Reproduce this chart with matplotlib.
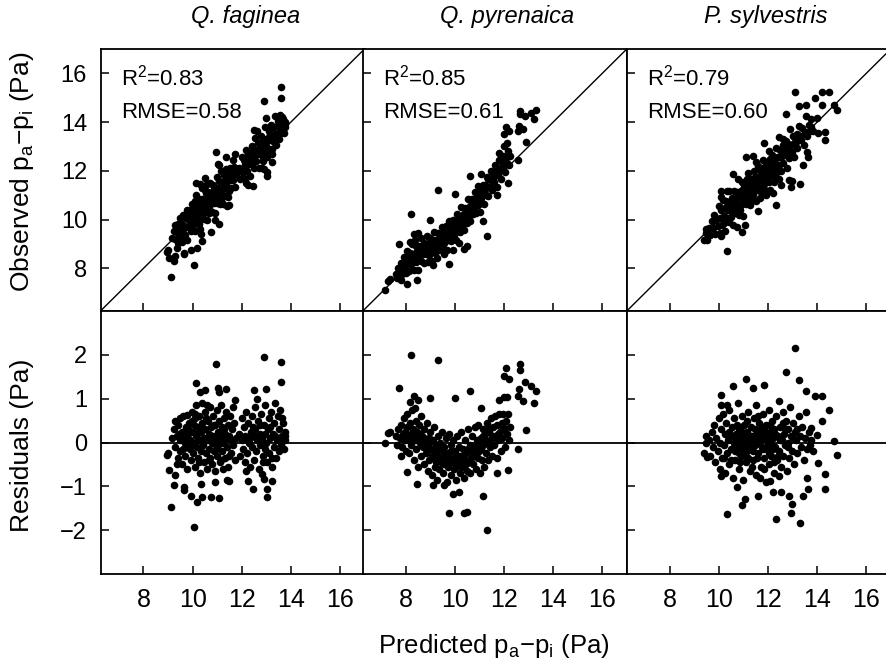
import matplotlib
matplotlib.use('Agg')
import matplotlib.pyplot as plt
import numpy as np

plt.rcParams['font.family'] = ['Liberation Sans', 'DejaVu Sans']
plt.rcParams['mathtext.fontset'] = 'custom'
plt.rcParams['mathtext.rm'] = 'Liberation Sans'
plt.rcParams['mathtext.it'] = 'Liberation Sans:italic'

species = ['Q. faginea', 'Q. pyrenaica', 'P. sylvestris']
r2_text = ['0.83', '0.85', '0.79']
rmse_text = ['0.58', '0.61', '0.60']

# (predicted, residual); observed = predicted + residual
faginea = [
    (10.97, 1.80), (12.90, 1.95), (13.62, 1.83), (13.61, 1.38), (10.14, 1.36), (9.13, -1.47),
    (10.04, -1.92), (10.18, -1.35), (9.95, -1.21), (10.38, -1.24), (10.76, -1.25), (11.07, -1.26),
    (9.66, -1.02), (9.66, -1.09), (9.25, -0.96), (9.05, -0.63), (9.27, -0.75), (13.03, -1.24),
    (13.03, -1.07), (13.24, -0.88), (12.44, -1.06), (12.27, -0.87), (12.18, -0.66), (12.83, -0.71),
    (12.90, -0.83), (10.35, -0.94), (10.90, -0.91), (11.47, -0.88), (11.40, -0.85), (9.16, 0.10),
    (8.95, -0.28), (9.00, -0.23), (11.03, 1.25), (11.37, 1.21), (11.08, 1.15), (12.50, 1.19),
    (12.97, 1.21), (12.63, 0.99), (11.73, 0.97), (13.78, 0.14), (13.75, 0.06), (10.31, 1.15),
    (10.52, 1.19), (9.29, 0.48), (9.50, 0.55), (9.77, 0.63), (9.97, 0.48),
    (9.25, 0.30), (9.30, -0.10), (9.35, 0.15), (9.40, -0.35), (9.42, 0.40), (9.48, 0.05),
    (9.50, -0.20), (9.55, 0.25), (9.58, -0.50), (9.60, 0.60), (9.65, 0.10), (9.68, -0.30),
    (9.72, 0.35), (9.75, -0.05), (9.78, -0.60), (9.82, 0.20), (9.85, 0.45), (9.88, -0.15),
    (9.90, 0.05), (9.93, -0.40), (9.96, 0.70), (10.00, 0.25), (10.02, -0.25), (10.05, 0.00),
    (10.08, 0.55), (10.10, -0.55), (10.12, 0.15), (10.15, 0.85), (10.18, -0.10), (10.20, 0.35),
    (10.22, -0.35), (10.25, 0.60), (10.28, 0.05), (10.30, -0.70), (10.33, 0.25), (10.35, -0.20),
    (10.38, 0.90), (10.40, 0.45), (10.42, -0.05), (10.45, 0.10), (10.48, -0.45), (10.50, 0.70),
    (10.52, 0.30), (10.55, -0.25), (10.58, 0.05), (10.60, -0.60), (10.62, 0.50), (10.65, 0.20),
    (10.68, -0.15), (10.70, 0.80), (10.72, -0.35), (10.75, 0.35), (10.78, 0.00), (10.80, -0.50),
    (10.83, 0.60), (10.85, 0.15), (10.88, -0.20), (10.90, 0.40), (10.93, -0.65), (10.95, 0.05),
    (10.98, 0.75), (11.00, -0.30), (11.03, 0.25), (11.05, -0.05), (11.08, 0.50), (11.10, -0.45),
    (11.13, 0.10), (11.15, 0.85), (11.18, -0.20), (11.20, 0.35), (11.23, -0.60), (11.25, 0.00),
    (11.28, 0.55), (11.30, -0.35), (11.33, 0.20), (11.36, 0.70), (11.40, -0.10), (11.43, 0.40),
    (11.46, -0.55), (11.50, 0.15), (11.53, 0.60), (11.56, -0.25), (11.60, 0.30), (11.63, 0.80),
    (11.66, -0.05), (11.70, 0.45), (11.74, -0.40), (11.78, 0.10),
    (11.90, 0.20), (11.95, -0.30), (12.00, 0.55), (12.03, 0.05), (12.07, -0.15), (12.10, 0.35),
    (12.13, -0.45), (12.16, 0.70), (12.20, 0.10), (12.23, -0.25), (12.26, 0.45), (12.30, 0.00),
    (12.33, -0.55), (12.36, 0.25), (12.40, 0.60), (12.43, -0.10), (12.46, 0.15), (12.50, -0.40),
    (12.53, 0.80), (12.56, 0.30), (12.60, -0.20), (12.63, 0.05), (12.66, 0.50), (12.70, -0.60),
    (12.73, 0.20), (12.76, -0.05), (12.80, 0.65), (12.83, 0.10), (12.86, -0.30), (12.90, 0.40),
    (12.93, -0.15), (12.96, 0.85), (13.00, 0.00), (13.03, -0.45), (13.06, 0.30), (13.10, 0.55),
    (13.13, -0.25), (13.16, 0.10), (13.20, 0.70), (13.23, -0.55), (13.26, 0.20), (13.30, -0.10),
    (13.33, 0.45), (13.36, 0.90), (13.40, -0.35), (13.43, 0.05), (13.46, 0.60), (13.50, -0.20),
    (13.53, 0.30), (13.56, 0.75), (13.60, -0.05), (13.64, 0.15), (13.68, 0.45), (13.72, -0.15),
    (13.76, 0.25),
    (9.45, 0.20), (9.62, -0.15), (9.80, 0.30), (9.98, -0.05), (10.06, 0.40), (10.16, 0.20),
    (10.26, -0.45), (10.36, 0.05), (10.46, 0.30), (10.56, 0.55), (10.66, -0.40), (10.76, 0.15),
    (10.86, 0.40), (10.96, -0.15), (11.06, 0.20), (11.16, -0.40), (11.26, 0.30), (11.38, 0.10),
    (11.48, -0.30), (11.58, 0.05), (12.15, 0.15), (12.35, 0.10), (12.55, 0.15), (12.75, 0.40),
    (12.95, 0.20), (13.15, 0.35), (13.35, 0.15), (13.55, 0.10), (12.45, 0.35), (12.85, -0.45),
    (13.25, -0.35), (13.65, 0.55), (10.10, 0.65), (10.60, 0.85), (9.70, 0.00), (9.35, -0.50),
]

pyrenaica = [
    (8.23, 2.00), (9.32, 1.89), (7.73, 1.25), (8.33, 1.06), (8.98, 1.02), (10.02, 1.02),
    (10.62, 1.17), (7.14, -0.02), (7.28, 0.21), (7.35, 0.23), (7.82, -0.30), (8.03, -0.68),
    (8.46, -0.94), (9.12, -0.98), (9.56, -0.98), (9.94, -1.17), (10.16, -1.13), (9.77, -1.60),
    (10.39, -1.60), (10.48, -1.58), (11.14, -1.21), (11.30, -1.99), (11.71, -0.69), (12.15, -0.63),
    (12.57, -0.14), (12.90, 0.29), (13.21, 0.91), (13.31, 1.18), (13.10, 1.28), (12.87, 1.37),
    (12.67, 1.80), (12.67, 1.66), (12.09, 1.70), (11.98, 1.52), (12.19, 1.44), (12.62, 1.22),
    (12.57, 1.06), (12.78, 0.94), (11.78, 0.97), (11.98, 1.04), (12.12, 1.04), (11.07, 0.79),
    (8.48, 0.97), (8.16, 0.93), (8.37, 0.79),
    (7.60, 0.15), (7.65, -0.05), (7.70, 0.30), (7.75, 0.10), (7.80, 0.40), (7.85, -0.10),
    (7.88, 0.20), (7.92, 0.55), (7.95, 0.05), (8.00, -0.20), (8.03, 0.35), (8.06, 0.65),
    (8.10, 0.10), (8.13, -0.25), (8.16, 0.45), (8.20, 0.20), (8.23, -0.05), (8.26, 0.75),
    (8.30, 0.30), (8.33, -0.40), (8.36, 0.05), (8.40, 0.50), (8.43, -0.15), (8.46, 0.25),
    (8.50, -0.55), (8.53, 0.40), (8.56, 0.00), (8.60, -0.30), (8.63, 0.60), (8.66, 0.15),
    (8.70, -0.10), (8.73, -0.50), (8.76, 0.30), (8.80, 0.05), (8.83, -0.25), (8.86, 0.45),
    (8.90, -0.65), (8.93, 0.10), (8.96, -0.40), (9.00, 0.25), (9.03, -0.15), (9.06, -0.75),
    (9.10, 0.05), (9.13, -0.35), (9.16, 0.35), (9.20, -0.55), (9.23, -0.05), (9.26, -0.85),
    (9.30, 0.15), (9.33, -0.30), (9.36, -0.60), (9.40, 0.00), (9.43, -0.45), (9.46, 0.25),
    (9.50, -0.20), (9.53, -0.70), (9.56, -0.10), (9.60, -0.40), (9.63, 0.10), (9.66, -0.90),
    (9.70, -0.25), (9.73, -0.55), (9.76, 0.20), (9.80, -0.35), (9.83, -0.05), (9.86, -0.75),
    (9.90, -0.45), (9.93, 0.05), (9.96, -0.60), (10.00, -0.20), (10.03, -0.85), (10.06, -0.35),
    (10.10, 0.15), (10.13, -0.50), (10.16, -0.10), (10.20, -0.70), (10.23, -0.30), (10.26, 0.25),
    (10.30, -0.55), (10.33, -0.15), (10.36, -0.80), (10.40, -0.40), (10.43, 0.05), (10.46, -0.25),
    (10.50, -0.65), (10.53, 0.30), (10.56, -0.45), (10.60, -0.05), (10.63, -0.70), (10.66, -0.20),
    (10.70, 0.15), (10.73, -0.50), (10.76, -0.30), (10.80, 0.35), (10.83, -0.10), (10.86, -0.60),
    (10.90, 0.05), (10.93, -0.35), (10.96, 0.40), (11.00, -0.20), (11.03, -0.70), (11.06, 0.10),
    (11.10, -0.40), (11.13, 0.30), (11.16, -0.05), (11.20, -0.55), (11.23, 0.20), (11.26, -0.25),
    (11.30, 0.45), (11.33, 0.00), (11.36, -0.40), (11.40, 0.25), (11.43, -0.10), (11.46, 0.55),
    (11.50, 0.10), (11.53, -0.30), (11.56, 0.35), (11.60, -0.05), (11.63, 0.60), (11.66, 0.15),
    (11.70, -0.35), (11.73, 0.40), (11.76, 0.05), (11.80, 0.65), (11.83, 0.25), (11.86, -0.20),
    (11.90, 0.45), (11.93, 0.10), (11.96, 0.65), (12.00, 0.30), (12.04, -0.10), (12.08, 0.50),
    (12.12, 0.20), (12.16, 0.65), (12.20, 0.05), (12.25, 0.35),
    (8.45, 0.10), (8.55, 0.20), (8.65, -0.05), (8.75, 0.10), (8.85, -0.10), (8.95, 0.00),
    (9.05, -0.30), (9.15, -0.20), (9.25, -0.45), (9.35, -0.15), (9.45, -0.35), (9.55, -0.50),
    (9.65, -0.30), (9.75, -0.45), (9.85, -0.20), (9.95, -0.35), (10.05, -0.55), (10.15, -0.30),
    (10.25, -0.40), (10.35, -0.30), (10.45, -0.50), (10.55, -0.15), (10.65, -0.35), (10.75, -0.10),
    (10.85, -0.25), (10.95, -0.05), (11.05, -0.15), (11.15, 0.15), (11.25, 0.05), (11.35, 0.30),
    (11.55, 0.15), (11.75, 0.20), (11.95, 0.35), (8.15, 0.05), (8.35, 0.15), (7.98, 0.25),
]

sylvestris = [
    (13.08, 2.15), (12.73, 1.61), (13.25, 1.42), (11.11, 1.44), (10.59, 1.28), (11.38, 1.25),
    (11.83, 1.31), (10.09, 1.08), (13.53, 1.18), (13.91, 1.06), (14.18, 1.06), (14.48, 0.75),
    (14.21, 0.48), (14.68, 0.04), (14.79, -0.28), (14.32, -0.71), (14.32, -1.05), (13.63, -1.06),
    (13.43, -1.21), (12.98, -1.41), (12.95, -1.60), (13.29, -1.84), (12.34, -1.74), (12.84, -1.22),
    (12.54, -1.12), (12.20, -1.12), (11.59, -1.22), (11.07, -1.28), (10.93, -1.43), (10.35, -1.62),
    (10.73, -1.02), (10.09, -0.77), (9.46, 0.14), (9.46, -0.02), (9.41, -0.24), (9.50, -0.33),
    (10.09, 0.85), (10.32, 0.85), (13.59, -0.81), (14.04, -0.47), (13.84, -0.20), (14.00, 0.17),
    (13.77, 0.34), (12.09, -0.88), (12.43, -0.77), (11.68, -0.81),
    (9.60, 0.05), (9.65, -0.30), (9.70, 0.25), (9.75, -0.10), (9.80, 0.40), (9.85, -0.45),
    (9.90, 0.10), (9.95, -0.20), (10.00, 0.55), (10.03, -0.60), (10.06, 0.00), (10.10, 0.30),
    (10.13, -0.35), (10.16, 0.65), (10.20, -0.05), (10.23, -0.70), (10.26, 0.20), (10.30, 0.45),
    (10.33, -0.25), (10.36, 0.05), (10.40, -0.50), (10.43, 0.75), (10.46, 0.15), (10.50, -0.15),
    (10.53, 0.35), (10.56, -0.80), (10.60, 0.00), (10.63, 0.55), (10.66, -0.40), (10.70, 0.20),
    (10.73, -0.10), (10.76, 0.90), (10.80, -0.60), (10.83, 0.30), (10.86, 0.05), (10.90, -0.30),
    (10.93, 0.60), (10.96, -0.05), (11.00, -0.85), (11.03, 0.40), (11.06, 0.10), (11.10, -0.45),
    (11.13, 0.25), (11.16, -0.20), (11.20, 0.70), (11.23, 0.00), (11.26, -0.65), (11.30, 0.35),
    (11.33, -0.15), (11.36, 0.15), (11.40, -0.40), (11.43, 0.55), (11.46, -0.05), (11.50, 0.85),
    (11.53, -0.75), (11.56, 0.20), (11.60, -0.25), (11.63, 0.45), (11.66, 0.05), (11.70, -0.55),
    (11.73, 0.30), (11.76, -0.10), (11.80, 0.65), (11.83, -0.35), (11.86, 0.10), (11.90, -0.90),
    (11.93, 0.40), (11.96, -0.15), (12.00, 0.20), (12.03, -0.50), (12.06, 0.75), (12.10, 0.00),
    (12.13, -0.30), (12.16, 0.50), (12.20, 0.10), (12.23, -0.70), (12.26, 0.30), (12.30, -0.10),
    (12.33, 0.60), (12.36, -0.40), (12.40, 0.15), (12.43, 0.95), (12.46, -0.20), (12.50, 0.35),
    (12.53, -0.55), (12.56, 0.05), (12.60, 0.70), (12.63, -0.30), (12.66, 0.20), (12.70, -0.05),
    (12.73, 0.50), (12.76, -0.65), (12.80, 0.30), (12.83, 0.00), (12.86, -0.35), (12.90, 0.80),
    (12.93, 0.15), (12.96, -0.20), (13.00, 0.45), (13.05, -0.50), (13.10, 0.25), (13.15, 0.05),
    (13.20, -0.25), (13.25, 0.60), (13.30, 0.15), (13.35, -0.10), (13.40, 0.35), (13.45, -0.40),
    (13.50, 0.10), (13.55, 0.70), (13.60, -0.15), (13.65, 0.25), (13.70, -0.05), (13.75, 0.05),
    (10.55, 0.15), (10.65, -0.20), (10.75, 0.40), (10.85, -0.45), (10.95, 0.25), (11.05, -0.30),
    (11.15, 0.50), (11.25, 0.15), (11.35, -0.55), (11.45, 0.30), (11.55, -0.35), (11.65, 0.10),
    (11.75, 0.35), (11.85, -0.60), (11.95, 0.05), (12.05, -0.25), (12.15, 0.30), (12.25, -0.45),
    (11.20, -0.35), (11.40, 0.05),
    (10.70, 0.05), (10.90, 0.15), (11.10, 0.05), (11.30, -0.05), (11.50, 0.10), (11.70, 0.15),
    (11.90, 0.25), (12.10, 0.40), (12.30, 0.20), (12.50, 0.05), (12.70, 0.30), (11.00, -0.15),
    (11.20, -0.10), (11.40, -0.20), (11.60, 0.00), (11.80, -0.15), (12.00, -0.05), (12.20, -0.15),
    (12.40, -0.30), (12.60, 0.45), (10.40, 0.25), (10.80, -0.25), (11.60, 0.60), (12.80, -0.10),
    (13.00, 0.10), (13.20, 0.30), (10.20, -0.35), (10.50, -0.40),
]

datasets = [faginea, pyrenaica, sylvestris]

W, H = 886, 665
fig = plt.figure(figsize=(W / 100, H / 100), dpi=100)

def px_axes(left, top, width, height):
    return fig.add_axes([left / W, 1 - (top + height) / H, width / W, height / H])

col_left = [101, 363.3, 627.3]
col_w = 263.5
xlim = (6.27, 17.0)

for i, pts in enumerate(datasets):
    pred, res = np.array(pts).T
    obs = pred + res

    ax1 = px_axes(col_left[i], 49, col_w, 262)
    ax2 = px_axes(col_left[i], 311, col_w, 263)

    ax1.scatter(pred, obs, s=30, color='black', linewidths=0, zorder=3)
    ax1.plot(xlim, xlim, color='black', lw=1.0)
    ax1.set_xlim(xlim)
    ax1.set_ylim(6.25, 17.0)
    ax1.set_yticks([8, 10, 12, 14, 16])
    ax1.set_xticks([8, 10, 12, 14, 16])
    ax1.set_xticklabels([])
    ax1.text(0.075, 0.862, 'R$^2$=' + r2_text[i], transform=ax1.transAxes, fontsize=16)
    ax1.text(0.075, 0.735, 'RMSE=' + rmse_text[i], transform=ax1.transAxes, fontsize=16)

    ax2.scatter(pred, res, s=30, color='black', linewidths=0, zorder=3)
    ax2.axhline(0, color='black', lw=1.3)
    ax2.set_xlim(xlim)
    ax2.set_ylim(-3, 3)
    ax2.set_yticks([-2, -1, 0, 1, 2])
    ax2.set_xticks([8, 10, 12, 14, 16])

    for ax in (ax1, ax2):
        ax.tick_params(direction='in', length=6, width=1.1, pad=10)
        ax.tick_params(axis='y', labelsize=17)
        ax.tick_params(axis='x', labelsize=18)
        for sp in ax.spines.values():
            sp.set_linewidth(1.3)
        if i > 0:
            ax.set_yticklabels([])

title_x = [246, 507, 766]
for i, name in enumerate(species):
    fig.text(title_x[i] / W, 1 - 23 / H, name, ha='center', va='baseline',
             fontsize=17, style='italic')

fig.text(494 / W, 0.018, r'Predicted $\mathrm{p_a{-}p_i}$ (Pa)', ha='center',
         va='baseline', fontsize=18.5)
fig.text(22 / W, 1 - 172 / H, r'Observed $\mathrm{p_a{-}p_i}$ (Pa)', ha='center',
         va='center', rotation=90, fontsize=19)
fig.text(22 / W, 1 - 445 / H, 'Residuals (Pa)', ha='center', va='center',
         rotation=90, fontsize=19)

fig.savefig('out.png', dpi=100)
